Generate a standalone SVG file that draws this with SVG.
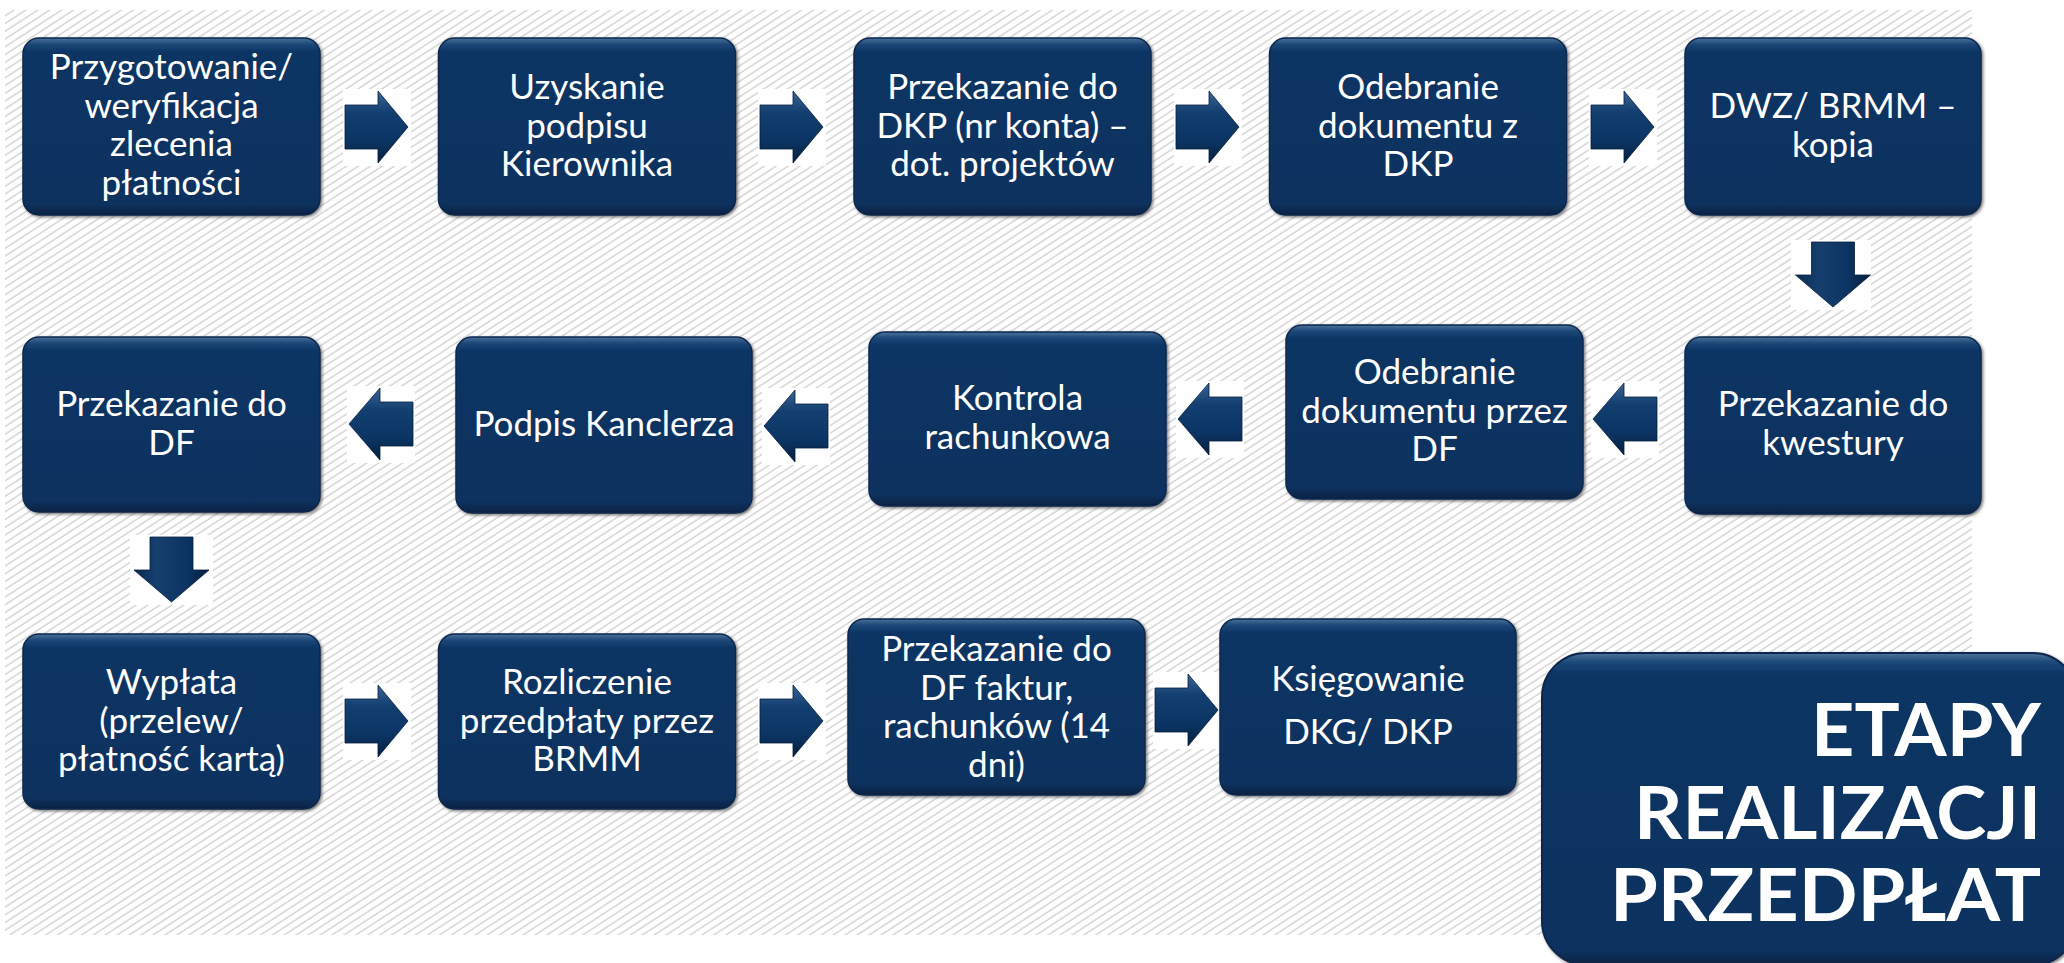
<svg xmlns="http://www.w3.org/2000/svg" width="2064" height="963" viewBox="0 0 2064 963">
<defs>
<pattern id="hatch" width="8" height="6.5" patternUnits="userSpaceOnUse" patternTransform="rotate(-33)">
<line x1="0" y1="3" x2="8" y2="3" stroke="#c6c6c6" stroke-width="1.1"/>
</pattern>
<linearGradient id="boxg" x1="0" y1="0" x2="0" y2="1">
<stop offset="0" stop-color="#4d729c"/>
<stop offset="0.035" stop-color="#1b4878"/>
<stop offset="0.08" stop-color="#0b3463"/>
<stop offset="0.93" stop-color="#0b3361"/>
<stop offset="1" stop-color="#062242"/>
</linearGradient>
<linearGradient id="titleg" x1="0" y1="0" x2="0" y2="1">
<stop offset="0" stop-color="#4d729c"/>
<stop offset="0.03" stop-color="#1b4878"/>
<stop offset="0.07" stop-color="#0b3463"/>
<stop offset="0.95" stop-color="#0b3361"/>
<stop offset="1" stop-color="#062242"/>
</linearGradient>
<linearGradient id="arrh" x1="0" y1="0" x2="0" y2="1">
<stop offset="0" stop-color="#3a6394"/>
<stop offset="0.3" stop-color="#123f70"/>
<stop offset="0.7" stop-color="#0b3463"/>
<stop offset="1" stop-color="#061f3d"/>
</linearGradient>
<linearGradient id="arrv" x1="0" y1="0" x2="1" y2="0">
<stop offset="0" stop-color="#082a52"/>
<stop offset="0.3" stop-color="#163f6e"/>
<stop offset="0.7" stop-color="#0b3463"/>
<stop offset="1" stop-color="#061f3d"/>
</linearGradient>
<filter id="shadow" x="-5%" y="-5%" width="110%" height="112%">
<feDropShadow dx="1.5" dy="1.5" stdDeviation="1.5" flood-color="#404040" flood-opacity="0.7"/>
</filter>
<path id="ar" d="M0,-22 L33,-22 L33,-36 L63,0 L33,36 L33,22 L0,22 Z"/>
<path id="al" d="M0,0 L31,-36 L31,-22 L64,-22 L64,22 L31,22 L31,36 Z"/>
<path id="ad" d="M-21.5,0 L21.5,0 L21.5,33 L37.5,33 L0,65 L-37.5,33 L-21.5,33 Z"/>
</defs>
<style>
.box{fill:url(#boxg);stroke:#08284d;stroke-width:1.5;filter:url(#shadow)}
.t{font-family:Lato,"PT Sans","Open Sans",sans-serif;font-size:35px;fill:#ffffff;text-anchor:middle}
.title{font-family:Lato,"Open Sans",sans-serif;font-weight:bold;font-size:72px;fill:#ffffff;text-anchor:end}
.abg{fill:#ffffff}
.arh{fill:url(#arrh);stroke:#061f3d;stroke-width:0.8}
.arv{fill:url(#arrv);stroke:#061f3d;stroke-width:0.8}
</style>
<rect x="0" y="0" width="2064" height="963" fill="#ffffff"/>
<rect x="5" y="10" width="1967" height="925" fill="url(#hatch)"/>

<g id="connectors">
<rect class="abg" x="343" y="89" width="68" height="77"/>
<use href="#ar" class="arh" x="345" y="127"/>
<rect class="abg" x="758" y="89" width="68" height="77"/>
<use href="#ar" class="arh" x="760" y="127"/>
<rect class="abg" x="1174" y="89" width="68" height="77"/>
<use href="#ar" class="arh" x="1176" y="127"/>
<rect class="abg" x="1589" y="89" width="68" height="77"/>
<use href="#ar" class="arh" x="1591" y="127"/>
<rect class="abg" x="1791" y="240" width="80" height="70"/>
<use href="#ad" class="arv" x="1833" y="242"/>
<rect class="abg" x="347" y="386" width="68" height="77"/>
<use href="#al" class="arh" x="349" y="424"/>
<rect class="abg" x="762" y="388" width="68" height="77"/>
<use href="#al" class="arh" x="764" y="426"/>
<rect class="abg" x="1176" y="381" width="68" height="77"/>
<use href="#al" class="arh" x="1178" y="419"/>
<rect class="abg" x="1591" y="381" width="68" height="77"/>
<use href="#al" class="arh" x="1593" y="419"/>
<rect class="abg" x="130" y="535" width="83" height="70"/>
<use href="#ad" class="arv" x="171.5" y="537"/>
<rect class="abg" x="343" y="683" width="68" height="77"/>
<use href="#ar" class="arh" x="345" y="721"/>
<rect class="abg" x="758" y="683" width="68" height="77"/>
<use href="#ar" class="arh" x="760" y="721"/>
<rect class="abg" x="1153" y="672" width="68" height="77"/>
<use href="#ar" class="arh" x="1155" y="710"/>
</g>

<g id="n1"><rect class="box" x="23" y="38" width="297" height="177" rx="16"/>
<text class="t"><tspan x="171.5" y="79">Przygotowanie/</tspan><tspan x="171.5" y="117.5">weryfikacja</tspan><tspan x="171.5" y="156">zlecenia</tspan><tspan x="171.5" y="194.5">płatności</tspan></text></g>
<g id="n2"><rect class="box" x="438.5" y="38" width="297" height="177" rx="16"/>
<text class="t"><tspan x="587" y="99">Uzyskanie</tspan><tspan x="587" y="137.5">podpisu</tspan><tspan x="587" y="176">Kierownika</tspan></text></g>
<g id="n3"><rect class="box" x="854" y="38" width="297" height="177" rx="16"/>
<text class="t"><tspan x="1002.5" y="99">Przekazanie do</tspan><tspan x="1002.5" y="137.5">DKP (nr konta) –</tspan><tspan x="1002.5" y="176">dot. projektów</tspan></text></g>
<g id="n4"><rect class="box" x="1269.5" y="38" width="297" height="177" rx="16"/>
<text class="t"><tspan x="1418" y="99">Odebranie</tspan><tspan x="1418" y="137.5">dokumentu z</tspan><tspan x="1418" y="176">DKP</tspan></text></g>
<g id="n5"><rect class="box" x="1685" y="38" width="296" height="177" rx="16"/>
<text class="t"><tspan x="1833" y="118">DWZ/ BRMM –</tspan><tspan x="1833" y="156.5">kopia</tspan></text></g>

<g id="n6"><rect class="box" x="1685" y="337" width="296" height="177" rx="16"/>
<text class="t"><tspan x="1833" y="416">Przekazanie do</tspan><tspan x="1833" y="454.5">kwestury</tspan></text></g>
<g id="n7"><rect class="box" x="1286" y="325" width="297" height="174" rx="16"/>
<text class="t"><tspan x="1434.5" y="384">Odebranie</tspan><tspan x="1434.5" y="422.5">dokumentu przez</tspan><tspan x="1434.5" y="461">DF</tspan></text></g>
<g id="n8"><rect class="box" x="869" y="332" width="297" height="174" rx="16"/>
<text class="t"><tspan x="1017.5" y="410">Kontrola</tspan><tspan x="1017.5" y="448.5">rachunkowa</tspan></text></g>
<g id="n9"><rect class="box" x="456" y="337" width="296" height="176" rx="16"/>
<text class="t"><tspan x="604" y="436">Podpis Kanclerza</tspan></text></g>
<g id="n10"><rect class="box" x="23" y="337" width="297" height="175" rx="16"/>
<text class="t"><tspan x="171.5" y="416">Przekazanie do</tspan><tspan x="171.5" y="454.5">DF</tspan></text></g>

<g id="n11"><rect class="box" x="23" y="634" width="297" height="175" rx="16"/>
<text class="t"><tspan x="171.5" y="694">Wypłata</tspan><tspan x="171.5" y="732.5">(przelew/</tspan><tspan x="171.5" y="771">płatność kartą)</tspan></text></g>
<g id="n12"><rect class="box" x="438.5" y="634" width="297" height="175" rx="16"/>
<text class="t"><tspan x="587" y="694">Rozliczenie</tspan><tspan x="587" y="732.5">przedpłaty przez</tspan><tspan x="587" y="771">BRMM</tspan></text></g>
<g id="n13"><rect class="box" x="848" y="619" width="297" height="176" rx="16"/>
<text class="t"><tspan x="996.5" y="661">Przekazanie do</tspan><tspan x="996.5" y="699.5">DF faktur,</tspan><tspan x="996.5" y="738">rachunków (14</tspan><tspan x="996.5" y="776.5">dni)</tspan></text></g>
<g id="n14"><rect class="box" x="1220" y="619" width="296" height="176" rx="16"/>
<text class="t"><tspan x="1368" y="691">Księgowanie</tspan><tspan x="1368" y="744">DKG/ DKP</tspan></text></g>

<g id="title"><rect x="1542" y="653" width="535" height="312" rx="44" fill="url(#titleg)" stroke="#08284d" stroke-width="2" filter="url(#shadow)"/>
<text class="title" x="2041" y="756" textLength="230" lengthAdjust="spacingAndGlyphs">ETAPY</text>
<text class="title" x="2041" y="839" textLength="407" lengthAdjust="spacingAndGlyphs">REALIZACJI</text>
<text class="title" x="2041" y="921" textLength="431" lengthAdjust="spacingAndGlyphs">PRZEDPŁAT</text></g>
</svg>
